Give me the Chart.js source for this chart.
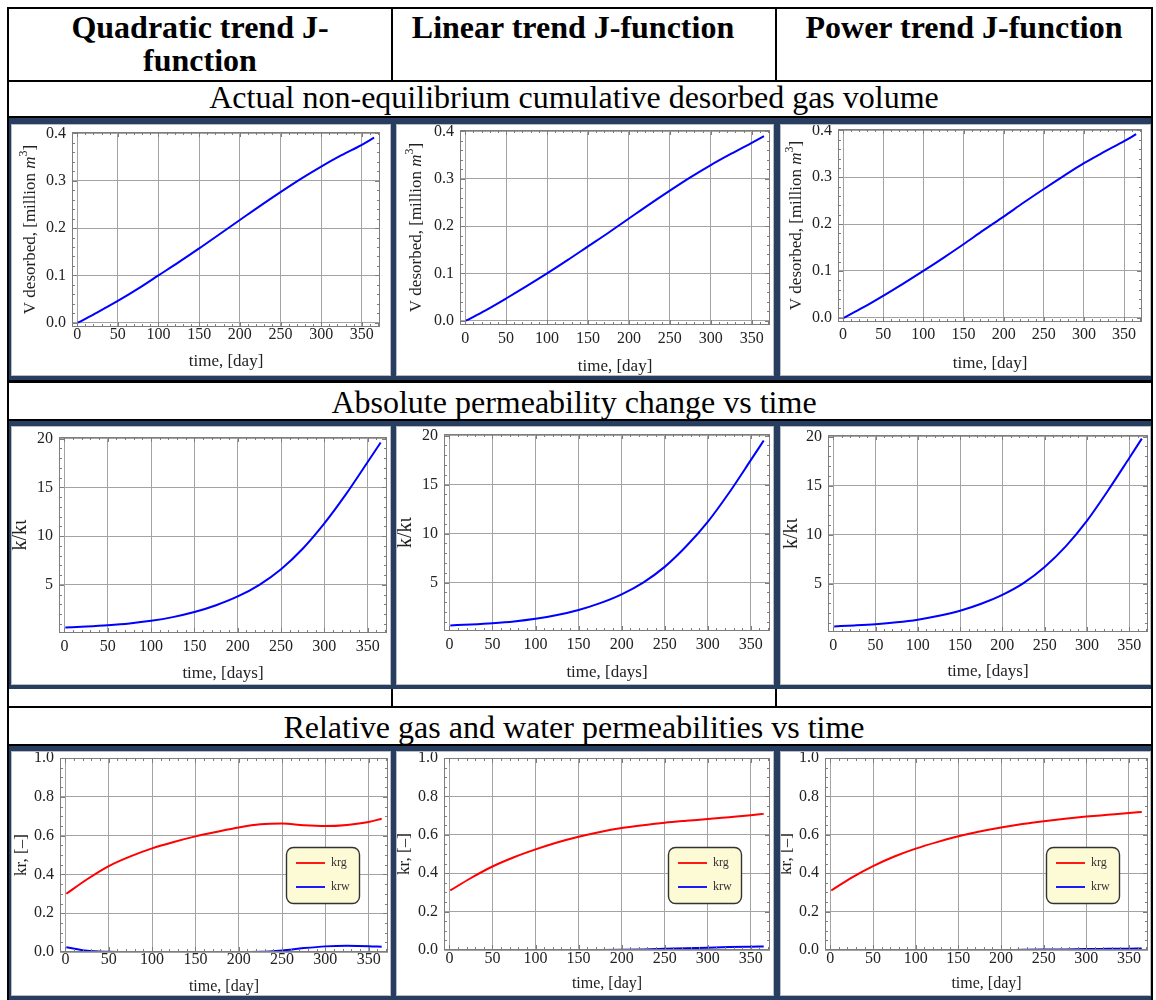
<!DOCTYPE html>
<html>
<head>
<meta charset="utf-8">
<title>J-function trends</title>
<script src="https://cdn.jsdelivr.net/npm/chart.js@4.4.1/dist/chart.umd.min.js"></script>
<style>
  body { margin: 0; background: #fff; }
  #sheet { position: relative; width: 1156px; height: 1000px; overflow: hidden; font-family: "Liberation Serif", "Times New Roman", serif; color: #000; }
  .rule { position: absolute; background: #000; }
  .head { position: absolute; top: 11px; font-size: 32px; font-weight: bold; line-height: 33px; text-align: center; }
  .band { position: absolute; left: 9px; width: 1130px; font-size: 32px; line-height: 36px; text-align: center; white-space: nowrap; }
  .navy { position: absolute; left: 9px; width: 1142px; background: #273e60; }
  canvas { position: absolute; background: #fff; outline: 1px solid #b9bcc2; }
</style>
</head>
<body>
<div id="sheet">
  <!-- table rules -->
  <div class="rule" style="left:7px;top:7px;width:1146px;height:2px"></div>
  <div class="rule" style="left:7px;top:80px;width:1146px;height:2px"></div>
  <div class="rule" style="left:7px;top:116px;width:1146px;height:2px"></div>
  <div class="rule" style="left:7px;top:380px;width:1146px;height:3px"></div>
  <div class="rule" style="left:7px;top:419px;width:1146px;height:2px"></div>
  <div class="rule" style="left:7px;top:706px;width:1146px;height:2px"></div>
  <div class="rule" style="left:7px;top:744px;width:1146px;height:2px"></div>
  <div class="rule" style="left:7px;top:7px;width:2px;height:993px"></div>
  <div class="rule" style="left:1151px;top:7px;width:2px;height:993px"></div>
  <div class="rule" style="left:391px;top:7px;width:2px;height:75px"></div>
  <div class="rule" style="left:775px;top:7px;width:2px;height:75px"></div>
  <div class="rule" style="left:391px;top:689px;width:2px;height:19px"></div>
  <div class="rule" style="left:775px;top:689px;width:2px;height:19px"></div>

  <div class="head" style="left:9px;width:382px">Quadratic trend J-<br>function</div>
  <div class="head" style="left:393px;width:360px">Linear trend J-function</div>
  <div class="head" style="left:777px;width:374px">Power trend J-function</div>

  <div class="band" style="top:79px">Actual non-equilibrium cumulative desorbed gas volume</div>
  <div class="band" style="top:384px">Absolute permeability change vs time</div>
  <div class="band" style="top:709px">Relative gas and water permeabilities vs time</div>

  <div class="navy" style="top:118px;height:262px"></div>
  <div class="navy" style="top:421px;height:268px"></div>
  <div class="navy" style="top:746px;height:254px"></div>

  <canvas id="vQ" width="378" height="250" style="left:12px;top:125px"></canvas>
  <canvas id="vL" width="376" height="250" style="left:397px;top:125px"></canvas>
  <canvas id="vP" width="369" height="250" style="left:781px;top:125px"></canvas>
  <canvas id="kQ" width="378" height="257" style="left:12px;top:427px"></canvas>
  <canvas id="kL" width="376" height="257" style="left:397px;top:427px"></canvas>
  <canvas id="kP" width="369" height="257" style="left:781px;top:427px"></canvas>
  <canvas id="rQ" width="378" height="243" style="left:12px;top:752px"></canvas>
  <canvas id="rL" width="376" height="243" style="left:397px;top:752px"></canvas>
  <canvas id="rP" width="369" height="243" style="left:781px;top:752px"></canvas>
</div>

<script>
// sample times, days
const days = [1, 25, 50, 75, 100, 125, 150, 175, 200, 225, 250, 275, 300, 325, 350, 365];

// cumulative desorbed gas volume, million m3
const vQuadratic = [0, 0.022, 0.046, 0.072, 0.1, 0.128, 0.157, 0.187, 0.217, 0.247, 0.276, 0.304, 0.33, 0.354, 0.376, 0.391];
const vLinear = [0, 0.022, 0.047, 0.073, 0.1, 0.128, 0.157, 0.186, 0.216, 0.246, 0.275, 0.303, 0.329, 0.353, 0.376, 0.39];
const vPower = [0, 0.022, 0.047, 0.073, 0.1, 0.128, 0.157, 0.187, 0.216, 0.246, 0.275, 0.303, 0.33, 0.354, 0.377, 0.392];

// absolute permeability ratio k/ki
const kQuadratic = [0.62, 0.72, 0.85, 1.03, 1.3, 1.68, 2.2, 2.9, 3.8, 5.0, 6.6, 8.7, 11.3, 14.3, 17.6, 19.6];
const kLinear = [0.62, 0.72, 0.85, 1.03, 1.3, 1.68, 2.2, 2.9, 3.8, 5.0, 6.6, 8.7, 11.2, 14.2, 17.5, 19.5];
const kPower = [0.62, 0.72, 0.85, 1.04, 1.31, 1.7, 2.22, 2.93, 3.85, 5.05, 6.7, 8.8, 11.4, 14.5, 17.8, 19.8];

// relative permeabilities, gas and water
const krgQuadratic = [0.3, 0.375, 0.443, 0.493, 0.534, 0.567, 0.596, 0.62, 0.642, 0.658, 0.662, 0.653, 0.649, 0.655, 0.67, 0.687];
const krwQuadratic = [0.024, 0.006, 0.001, 0, 0, 0, 0, 0, 0, 0.001, 0.008, 0.02, 0.029, 0.032, 0.03, 0.027];
const krgLinear = [0.31, 0.375, 0.435, 0.483, 0.524, 0.56, 0.59, 0.615, 0.635, 0.65, 0.663, 0.673, 0.682, 0.692, 0.702, 0.709];
const krwLinear = [0, 0, 0, 0, 0, 0, 0, 0, 0.001, 0.003, 0.006, 0.009, 0.012, 0.015, 0.017, 0.018];
const krgPower = [0.31, 0.377, 0.437, 0.487, 0.528, 0.562, 0.592, 0.617, 0.638, 0.656, 0.671, 0.684, 0.695, 0.704, 0.713, 0.719];
const krwPower = [0, 0, 0, 0, 0, 0, 0, 0, 0, 0.001, 0.002, 0.003, 0.005, 0.006, 0.007, 0.008];

// axis ticks
const timeTicks = [0, 50, 100, 150, 200, 250, 300, 350];
const vTicks = [0, 0.1, 0.2, 0.3, 0.4];
const kTicks = [5, 10, 15, 20];
const krTicks = [0, 0.2, 0.4, 0.6, 0.8, 1.0];

const SERIF = "'Liberation Serif', 'Times New Roman', serif";
const INK = '#222';

// frame with inward major/minor ticks on all four sides
const frameTicks = {
  id: 'frameTicks',
  afterDatasetsDraw(chart, args, opts) {
    const { ctx, chartArea: a, scales: { x, y } } = chart;
    ctx.save();
    ctx.strokeStyle = '#7d7d7d';
    ctx.lineWidth = 1;
    ctx.strokeRect(a.left + 0.5, a.top + 0.5, a.right - a.left - 1, a.bottom - a.top - 1);
    ctx.beginPath();
    const mark = (v, scale, len) => {
      const p = Math.round(scale.getPixelForValue(v)) + 0.5;
      if (scale.axis === 'x') {
        if (p < a.left || p > a.right) return;
        ctx.moveTo(p, a.bottom); ctx.lineTo(p, a.bottom - len);
        ctx.moveTo(p, a.top); ctx.lineTo(p, a.top + len);
      } else {
        if (p < a.top || p > a.bottom) return;
        ctx.moveTo(a.left, p); ctx.lineTo(a.left + len, p);
        ctx.moveTo(a.right, p); ctx.lineTo(a.right - len, p);
      }
    };
    for (let v = 0; v <= 370; v += 10) mark(v, x, v % 50 === 0 ? 5 : 3);
    const st = opts.yMinor;
    for (let i = Math.ceil(y.min / st); i * st <= y.max + 1e-9; i++) {
      const v = i * st;
      const major = opts.yMajor.some(t => Math.abs(t - v) < 1e-9);
      mark(v, y, major ? 5 : 3);
    }
    ctx.stroke();
    ctx.restore();
  }
};

// rotated y title, made of runs so that italics and superscripts fit in
const richYTitle = {
  id: 'richYTitle',
  afterDraw(chart, args, opts) {
    const { ctx, chartArea: a } = chart;
    ctx.save();
    ctx.translate(opts.x, (a.top + a.bottom) / 2);
    ctx.rotate(-Math.PI / 2);
    ctx.textBaseline = 'middle';
    ctx.fillStyle = INK;
    let total = 0;
    const runs = opts.parts.map(p => {
      const font = (p.italic ? 'italic ' : '') + (p.sup ? 12 : opts.size) + 'px ' + SERIF;
      ctx.font = font;
      const w = ctx.measureText(p.text).width;
      total += w;
      return { text: p.text, sup: p.sup, font, w };
    });
    let cx = -total / 2;
    runs.forEach(r => {
      ctx.font = r.font;
      ctx.fillText(r.text, cx, r.sup ? -7 : 0);
      cx += r.w;
    });
    ctx.restore();
  }
};

// rounded legend box inside the plot
const insetLegend = {
  id: 'insetLegend',
  afterDraw(chart, args, opts) {
    if (!opts.show) return;
    const { ctx, chartArea: a } = chart;
    const w = 73, h = 56;
    const bx = a.right - 29 - w, by = a.top + 89;
    ctx.save();
    ctx.beginPath();
    ctx.roundRect(bx + 0.5, by + 0.5, w, h, 7);
    ctx.fillStyle = '#fdfbd6';
    ctx.fill();
    ctx.lineWidth = 1.4;
    ctx.strokeStyle = '#333';
    ctx.stroke();
    ctx.font = '12px ' + SERIF;
    ctx.textBaseline = 'middle';
    chart.data.datasets.forEach((ds, i) => {
      const ly = by + 16 + i * 24;
      ctx.beginPath();
      ctx.moveTo(bx + 10, ly);
      ctx.lineTo(bx + 39, ly);
      ctx.strokeStyle = ds.borderColor;
      ctx.lineWidth = 1.8;
      ctx.stroke();
      ctx.fillStyle = '#333';
      ctx.fillText(ds.label, bx + 45, ly);
    });
    ctx.restore();
  }
};

function makePlot(id, cfg) {
  const L = cfg.box; // [left, top, right, bottom] space round the plot frame
  const datasets = cfg.series.map(s => ({
    label: s.label,
    data: days.map((d, i) => ({ x: d, y: s.values[i] })),
    borderColor: s.color,
    borderWidth: 2,
    pointRadius: 0,
    cubicInterpolationMode: 'monotone',
    fill: false
  }));
  return new Chart(document.getElementById(id), {
    type: 'line',
    data: { datasets },
    plugins: [frameTicks, richYTitle, insetLegend],
    options: {
      responsive: false,
      animation: false,
      devicePixelRatio: 1,
      layout: { padding: { left: 0, top: L[1], right: L[2], bottom: 0 } },
      plugins: {
        legend: { display: false },
        tooltip: { enabled: false },
        frameTicks: { yMinor: cfg.yMinor, yMajor: cfg.yTicks },
        richYTitle: { x: cfg.yTitleX, parts: cfg.yTitle, size: cfg.yTitleSize },
        insetLegend: { show: !!cfg.legend }
      },
      scales: {
        x: {
          type: 'linear',
          min: -6.3,
          max: 372.3,
          afterBuildTicks: s => { s.ticks = timeTicks.map(v => ({ value: v })); },
          afterFit: s => { s.height = L[3]; s.paddingLeft = 0; s.paddingRight = 0; },
          grid: { color: '#a3a3a3', lineWidth: 1, drawTicks: false },
          border: { display: false },
          ticks: {
            autoSkip: false, maxRotation: 0, padding: cfg.xPad, color: INK,
            font: { family: SERIF, size: 16, lineHeight: 1 },
            callback: v => String(v)
          },
          title: {
            display: true, text: cfg.xTitle, color: INK,
            font: { family: SERIF, size: cfg.xTitleSize, lineHeight: 1 },
            padding: { top: 0, bottom: cfg.xTitleBottom }
          }
        },
        y: {
          min: cfg.yRange[0],
          max: cfg.yRange[1],
          afterBuildTicks: s => { s.ticks = cfg.yTicks.map(v => ({ value: v })); },
          afterFit: s => { s.width = L[0]; s.paddingTop = 0; s.paddingBottom = 0; },
          grid: { color: '#a3a3a3', lineWidth: 1, drawTicks: false },
          border: { display: false },
          ticks: {
            autoSkip: false, padding: 6, color: INK,
            font: { family: SERIF, size: 16, lineHeight: 1 },
            callback: cfg.yFormat
          }
        }
      }
    }
  });
}

const fix1 = v => v.toFixed(1);
const whole = v => String(v);
const vTitle = [{ text: 'V desorbed, [million ' }, { text: 'm', italic: true }, { text: '3', sup: true }, { text: ']' }];
const kTitle = [{ text: 'k/kι' }];
const krTitle = [{ text: 'kr, [–]' }];

const vCommon = { yRange: [-0.009, 0.403], yTicks: vTicks, yMinor: 0.02, yFormat: fix1, yTitle: vTitle, yTitleSize: 17,
  xTitle: 'time, [day]', xTitleSize: 17 };
makePlot('vQ', Object.assign({}, vCommon, { box: [60, 7, 10, 48], yTitleX: 19, xPad: 0, xTitleBottom: 5,
  series: [{ label: 'V', values: vQuadratic, color: '#0000ff' }] }));
makePlot('vL', Object.assign({}, vCommon, { box: [63, 5, 3, 50], yTitleX: 20, xPad: 6, xTitleBottom: 0,
  series: [{ label: 'V', values: vLinear, color: '#0000ff' }] }));
makePlot('vP', Object.assign({}, vCommon, { box: [57, 4, 8, 53], yTitleX: 16, xPad: 5, xTitleBottom: 3,
  series: [{ label: 'V', values: vPower, color: '#0000ff' }] }));

const kCommon = { yRange: [0.05, 20.17], yTicks: kTicks, yMinor: 1, yFormat: whole, yTitle: kTitle, yTitleSize: 20,
  xTitle: 'time, [days]', xTitleSize: 17 };
makePlot('kQ', Object.assign({}, kCommon, { box: [47, 10, 3, 51], yTitleX: 9, xPad: 6, xTitleBottom: 2,
  series: [{ label: 'k', values: kQuadratic, color: '#0000ff' }] }));
makePlot('kL', Object.assign({}, kCommon, { box: [47, 7, 3, 53], yTitleX: 9, xPad: 6, xTitleBottom: 3,
  series: [{ label: 'k', values: kLinear, color: '#0000ff' }] }));
makePlot('kP', Object.assign({}, kCommon, { box: [47, 8, 2, 52], yTitleX: 11, xPad: 6, xTitleBottom: 4,
  series: [{ label: 'k', values: kPower, color: '#0000ff' }] }));

const rCommon = { yRange: [0, 1], yTicks: krTicks, yMinor: 0.05, yFormat: fix1, yTitle: krTitle, yTitleSize: 17,
  xTitle: 'time, [day]', xTitleSize: 16, legend: true };
makePlot('rQ', Object.assign({}, rCommon, { box: [48, 6, 2, 43], yTitleX: 10, xPad: 0, xTitleBottom: 0,
  series: [{ label: 'krg', values: krgQuadratic, color: '#ff0000' }, { label: 'krw', values: krwQuadratic, color: '#0000ff' }] }));
makePlot('rL', Object.assign({}, rCommon, { box: [47, 6, 3, 45], yTitleX: 8, xPad: 1, xTitleBottom: 3,
  series: [{ label: 'krg', values: krgLinear, color: '#ff0000' }, { label: 'krw', values: krwLinear, color: '#0000ff' }] }));
makePlot('rP', Object.assign({}, rCommon, { box: [44, 6, 2, 45], yTitleX: 6, xPad: 1, xTitleBottom: 3,
  series: [{ label: 'krg', values: krgPower, color: '#ff0000' }, { label: 'krw', values: krwPower, color: '#0000ff' }] }));
</script>
</body>
</html>
